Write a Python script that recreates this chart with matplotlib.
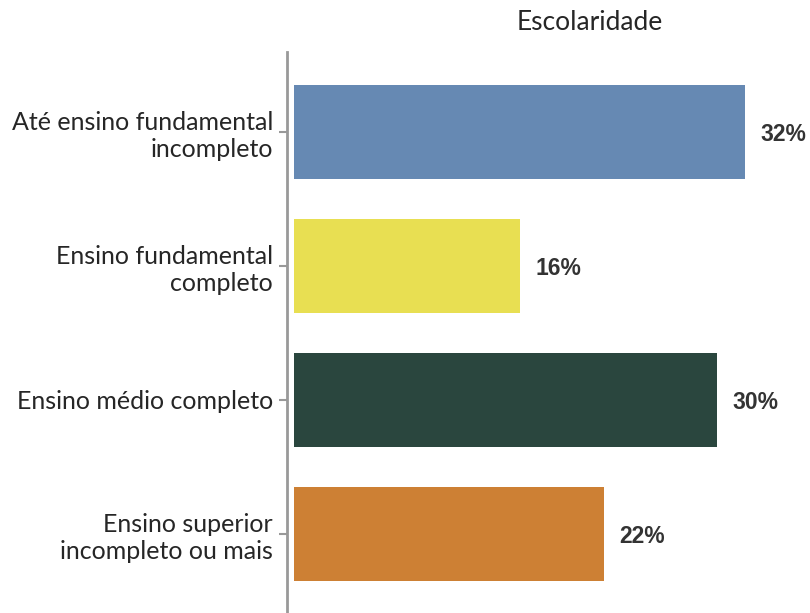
import matplotlib
matplotlib.use("Agg")
import matplotlib.pyplot as plt

categorias = ["Até ensino fundamental\nincompleto", "Ensino fundamental\ncompleto",
              "Ensino médio completo", "Ensino superior\nincompleto ou mais"]
valores = [32, 16, 30, 22]
cores = ["#6689b3", "#e8df52", "#2a463e", "#cd8034"]

fig = plt.figure(figsize=(8.1, 6.13), dpi=100)
ax = fig.add_axes([287 / 810, 0, 1 - 287 / 810, 1 - 52 / 613])

pos = list(range(len(valores)))
ax.barh(pos, valores, height=0.70, color=cores)
ax.set_ylim(3.59, -0.597)
ax.set_xlim(-0.5, 36.6)

for p, v in zip(pos, valores):
    ax.text(v + 1.1, p + 0.02, f"{v}%", va="center", ha="left", fontsize=16.5,
            fontweight="bold", color="#333333", family="Liberation Sans")

ax.set_yticks(pos)
ax.set_yticklabels(categorias, fontsize=18, color="#262626", family="Lato",
                   linespacing=1.22)
ax.tick_params(axis="y", length=6, width=1.5, color="#999999", pad=4)
ax.set_xticks([])
for s in ["top", "right", "bottom"]:
    ax.spines[s].set_visible(False)
ax.spines["left"].set_color("#999999")
ax.spines["left"].set_linewidth(2)

fig.text(590 / 810, 1 - 23 / 613, "Escolaridade", ha="center", va="center",
         fontsize=19, color="#262626", family="Lato")

fig.savefig("out.png", dpi=100)
